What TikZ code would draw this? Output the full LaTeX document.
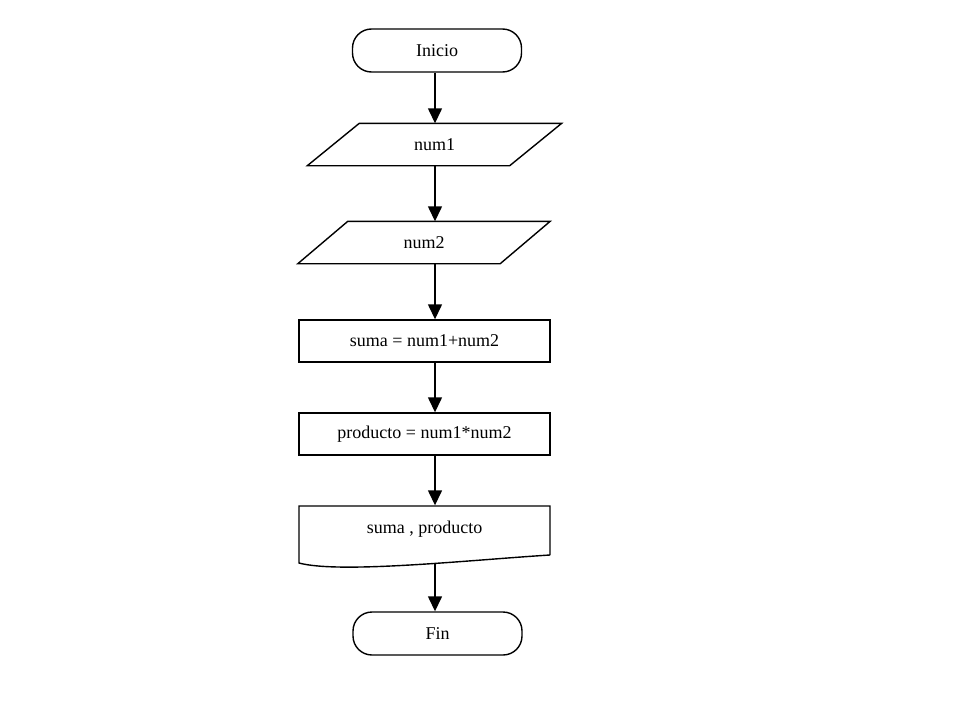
\documentclass[tikz,border=0pt]{standalone}
\usepackage{fontspec}
\setmainfont{Liberation Serif}
\usetikzlibrary{arrows.meta,calc}
\begin{document}
\begin{tikzpicture}[x=1pt,y=-1pt,
  line width=1.4pt,
  font=\fontsize{18}{21}\selectfont,
  term/.style={draw, rounded corners=19pt, minimum width=169pt, minimum height=43pt, inner sep=0pt},
  proc/.style={draw, minimum width=251pt, minimum height=42pt, inner sep=0pt},
  iobox/.style={minimum width=201pt, minimum height=41pt, inner sep=0pt},
  arr/.style={-{Triangle[length=15pt,width=14pt]}}]
\fill[white] (0,0) rectangle (960,720);
\useasboundingbox (0,0) rectangle (960,720);

\node[term] (ini) at (437,50.5) {Inicio};

\node[iobox] (n1) at (434.5,144.5) {num1};
\draw ([xshift=26pt]n1.north west) -- ([xshift=26pt]n1.north east)
  -- ([xshift=-26pt]n1.south east) -- ([xshift=-26pt]n1.south west) -- cycle;

\node[iobox] (n2) at (424,242.5) {num2};
\draw ([xshift=25pt]n2.north west) -- ([xshift=25pt]n2.north east)
  -- ([xshift=-25pt]n2.south east) -- ([xshift=-25pt]n2.south west) -- cycle;

\node[proc] (s) at (424.5,341) {suma = num1+num2};
\node[proc] (p) at (424.5,434) {producto = num1*num2};

\node[minimum width=251pt, minimum height=57pt, inner sep=3pt,
      text height=24pt, text depth=27pt] (doc) at (424.5,534.5) {suma ,\ producto};
\draw (550,555) -- (550,506) -- (299,506) -- (299,563)
  .. controls (340,574) and (470,560) .. (550,555);

\node[term] (fin) at (437.5,633.5) {Fin};

\coordinate (col) at (435,0);
\draw[arr] (ini.south -| col) -- (n1.north -| col);
\draw[arr] (n1.south -| col) -- (n2.north -| col);
\draw[arr] (n2.south -| col) -- (s.north -| col);
\draw[arr] (s.south -| col) -- (p.north -| col);
\draw[arr] (p.south -| col) -- (doc.north -| col);
\draw[arr] (doc.south -| col) -- (fin.north -| col);
\end{tikzpicture}
\end{document}
